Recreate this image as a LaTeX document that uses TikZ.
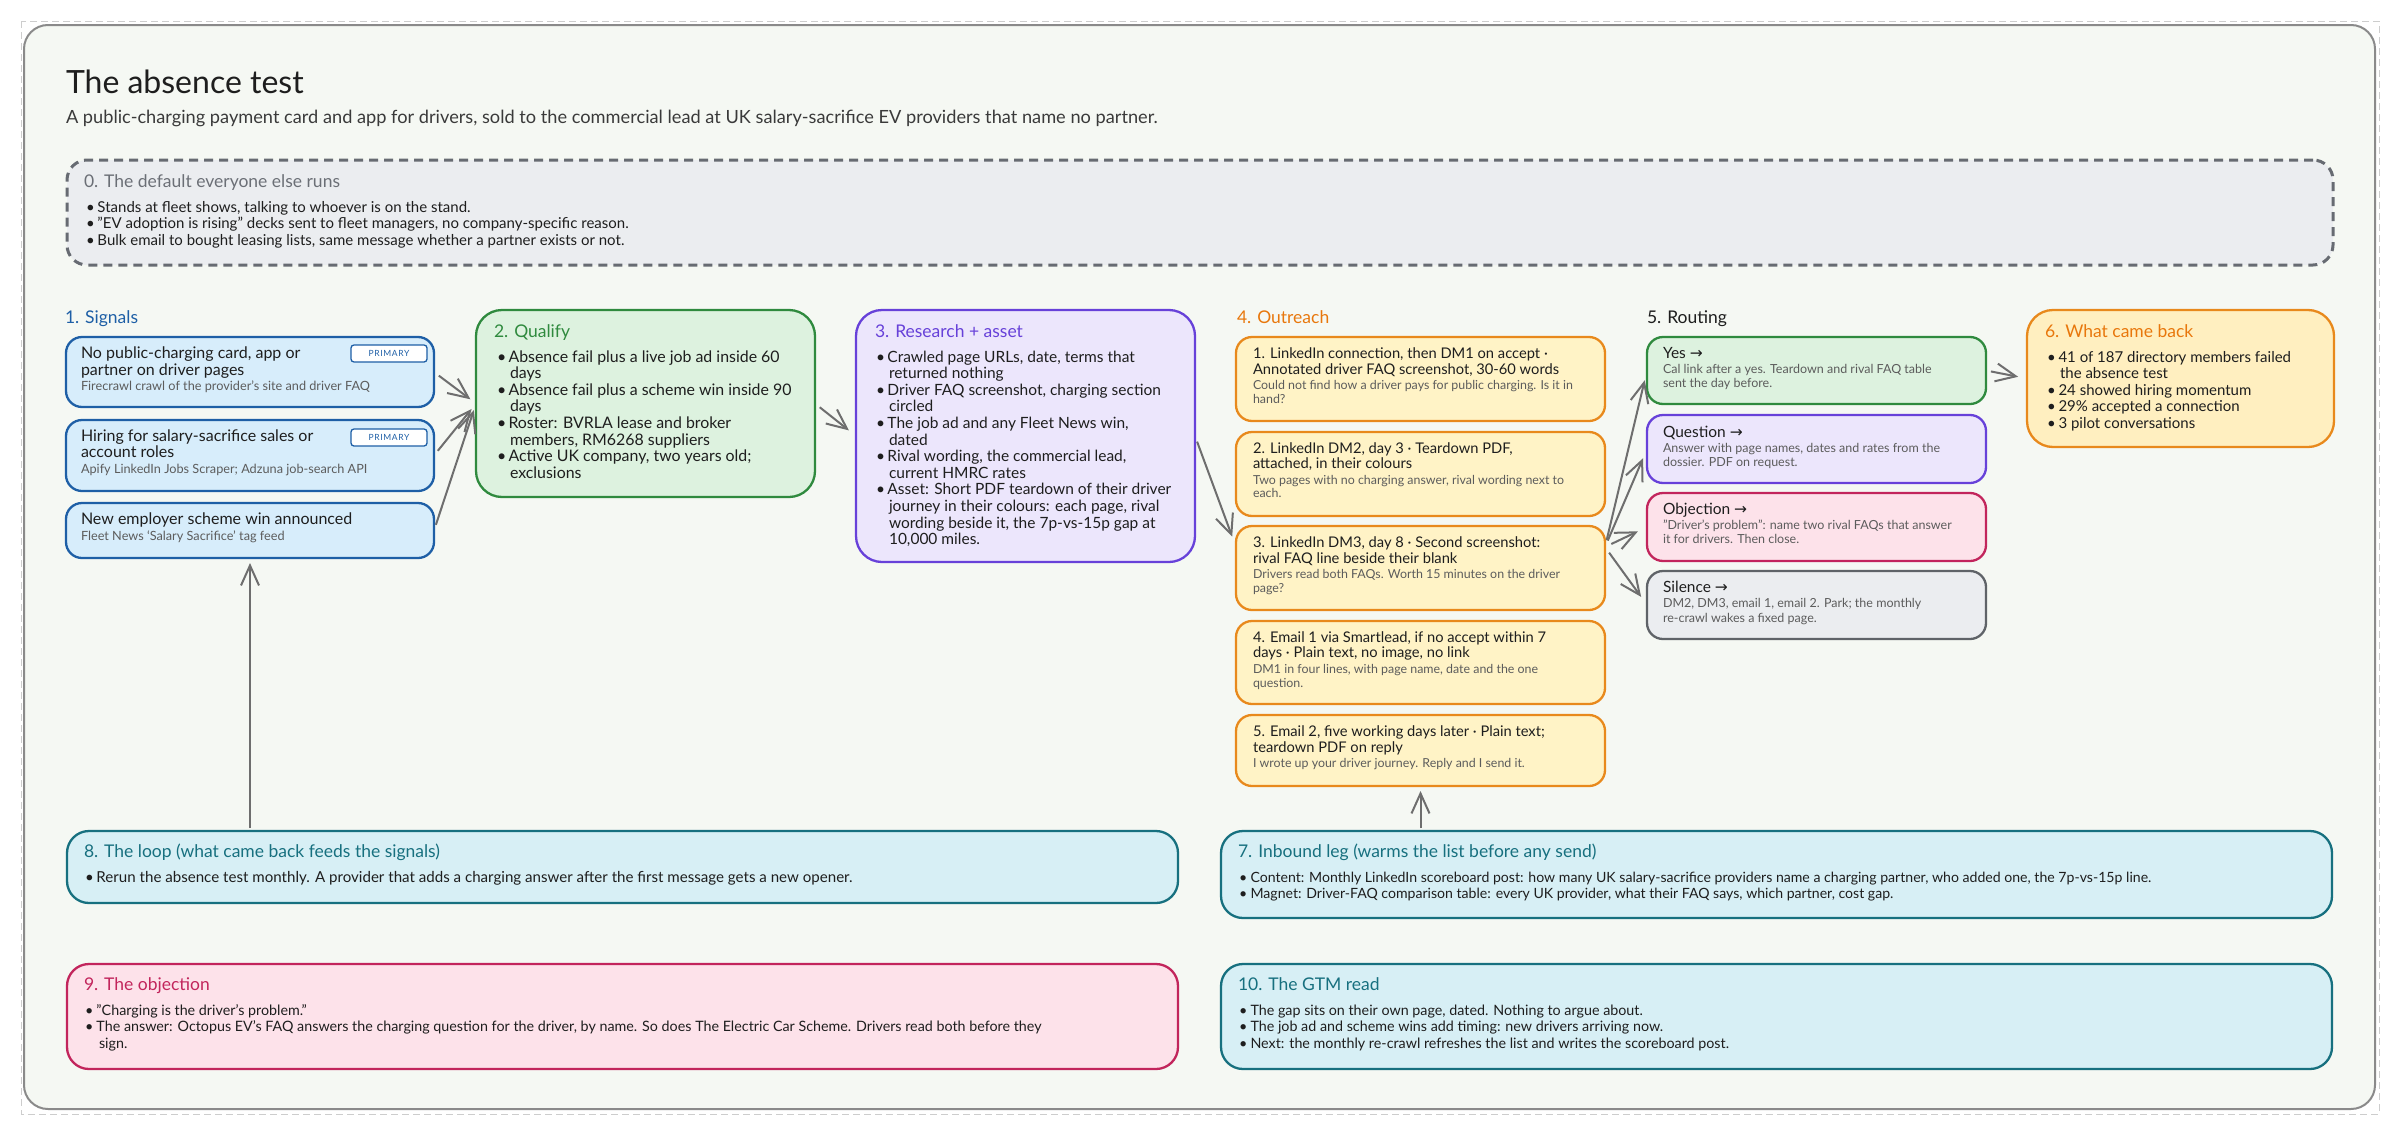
\documentclass[tikz,border=0pt]{standalone}
\usepackage{fontspec}
\setmainfont{Lato}
\newfontfamily\symf{DejaVu Sans}
\usetikzlibrary{arrows.meta,calc}
\definecolor{ink}{HTML}{1E1E1E}
\definecolor{subink}{HTML}{3A3A3A}
\definecolor{subgray}{HTML}{5C5C5C}
\definecolor{panelfill}{HTML}{F5F8F3}
\definecolor{panelline}{HTML}{8A8A8A}
\definecolor{outerdash}{HTML}{CDCDCD}
\definecolor{grayfill}{HTML}{EBEDF0}
\definecolor{grayline}{HTML}{676B72}
\definecolor{graytitle}{HTML}{6B6F76}
\definecolor{bluefill}{HTML}{D7EDFB}
\definecolor{blueline}{HTML}{1E5FA6}
\definecolor{greenfill}{HTML}{DDF2DF}
\definecolor{greenline}{HTML}{2F8A3E}
\definecolor{purpfill}{HTML}{ECE6FC}
\definecolor{purpline}{HTML}{6741D9}
\definecolor{yelfill}{HTML}{FFF3C6}
\definecolor{yelfilltwo}{HTML}{FFEFC0}
\definecolor{orline}{HTML}{E8891C}
\definecolor{ortitle}{HTML}{E8770C}
\definecolor{pinkfill}{HTML}{FDE2EA}
\definecolor{pinkline}{HTML}{C2255C}
\definecolor{tealfill}{HTML}{D7EFF5}
\definecolor{tealline}{HTML}{17707F}
\definecolor{silline}{HTML}{5F6368}
\definecolor{arrowc}{HTML}{6E6E6E}
\newcounter{tl}
\newcommand\TL[3][]{\stepcounter{tl}\node[txt,#1] (t\arabic{tl}) at (#2) {#3};}
\newcommand\BL[3][]{\TL[#1]{#2}{\makebox[11.5pt][l]{\textbullet}#3}}
\newcommand\myarrow{{\symf →}}
\newcommand\fs[1]{\fontsize{#1}{#1}\selectfont}
\begin{document}
\begin{tikzpicture}[x=1pt,y=-1pt,
 txt/.style={anchor=base west,inner sep=0pt,outer sep=0pt,text=ink,font=\fs{14.3}},
 sm/.style={text=subgray,font=\fs{12.4}},
 hd/.style={font=\fs{17.5}},
 fzero/.style={font=\fs{15}},
 fsig/.style={font=\fs{16}},
 fsigsm/.style={text=subgray,font=\fs{12.7}},
 fqual/.style={font=\fs{15.9}},
 fres/.style={font=\fs{15.5}},
 fout/.style={font=\fs{14.7}},
 frout/.style={font=\fs{15.5}},
 frsm/.style={text=subgray,font=\fs{12.5}},
 fwcb/.style={font=\fs{15}},
 floop/.style={font=\fs{15.1}},
 finb/.style={font=\fs{14.1}},
 box/.style={anchor=north west,inner sep=0pt,outer sep=0pt,line width=2.3pt,rounded corners=16pt},
 bigbox/.style={box,rounded corners=26pt},
 tag/.style={draw=blueline,fill=white,line width=1.3pt,rounded corners=3pt,inner sep=0pt,minimum width=76pt,minimum height=17pt,text=blueline,font=\fs{8.5}\addfontfeature{LetterSpace=8}},
 conn/.style={draw=arrowc,line width=2pt,-{Straight Barb[length=20pt,width=18pt]}},
]
\useasboundingbox (0,0) rectangle (2400,1135);
\fill[white] (0,0) rectangle (2400,1135);
\draw[outerdash,line width=1pt,dash pattern=on 7pt off 4pt] (21,21) rectangle (2379,1114);
\node[box,draw=panelline,fill=panelfill,line width=2pt,rounded corners=24pt,minimum width=2351pt,minimum height=1084pt] (panel) at (24,25) {};

% title
\TL[font=\fs{32}]{66,93}{The absence test}
\TL[font=\fs{18.2},text=subink]{66,123}{A public-charging payment card and app for drivers, sold to the commercial lead at UK salary-sacrifice EV providers that name no partner.}

% box 0
\node[box,draw=grayline,fill=grayfill,line width=3pt,dash pattern=on 9pt off 6pt,rounded corners=20pt,minimum width=2266pt,minimum height=105pt] (box0) at (67,160) {};
\TL[hd,text=graytitle]{84,187}{0. The default everyone else runs}
\BL[fzero]{86,212}{Stands at fleet shows, talking to whoever is on the stand.}
\BL[fzero]{86,228.5}{"EV adoption is rising" decks sent to fleet managers, no company-specific reason.}
\BL[fzero]{86,245}{Bulk email to bought leasing lists, same message whether a partner exists or not.}

% 1. Signals
\TL[hd,text=blueline]{65,323}{1. Signals}
\node[box,draw=blueline,fill=bluefill,minimum width=368pt,minimum height=70pt] (sig1) at (66,337) {};
\node[box,draw=blueline,fill=bluefill,minimum width=368pt,minimum height=71pt] (sig2) at (66,420) {};
\node[box,draw=blueline,fill=bluefill,minimum width=368pt,minimum height=55pt] (sig3) at (66,503) {};
\node[tag] (tag1) at (389,353.5) {PRIMARY};
\node[tag] (tag2) at (389,437.5) {PRIMARY};
\TL[fsig]{81,358}{No public-charging card, app or}
\TL[fsig]{81,375}{partner on driver pages}
\TL[fsigsm]{81,390}{Firecrawl crawl of the provider's site and driver FAQ}
\TL[fsig]{81,441}{Hiring for salary-sacrifice sales or}
\TL[fsig]{81,457}{account roles}
\TL[fsigsm]{81,473}{Apify LinkedIn Jobs Scraper; Adzuna job-search API}
\TL[fsig]{81,524}{New employer scheme win announced}
\TL[fsigsm]{81,540}{Fleet News `Salary Sacrifice' tag feed}

% 2. Qualify
\node[bigbox,draw=greenline,fill=greenfill,minimum width=339pt,minimum height=187pt] (qual) at (476,310) {};
\TL[hd,text=greenline]{494,337}{2. Qualify}
\BL[fqual]{497,362}{Absence fail plus a live job ad inside 60}
\TL[fqual]{510,378.6}{days}
\BL[fqual]{497,395.2}{Absence fail plus a scheme win inside 90}
\TL[fqual]{510,411.8}{days}
\BL[fqual]{497,428.4}{Roster: BVRLA lease and broker}
\TL[fqual]{510,445}{members, RM6268 suppliers}
\BL[fqual]{497,461.6}{Active UK company, two years old;}
\TL[fqual]{510,478.2}{exclusions}

% 3. Research + asset
\node[bigbox,draw=purpline,fill=purpfill,minimum width=339pt,minimum height=252pt] (res) at (856,310) {};
\TL[hd,text=purpline]{875,337}{3. Research + asset}
\BL[fres]{876,362}{Crawled page URLs, date, terms that}
\TL[fres]{889,378.6}{returned nothing}
\BL[fres]{876,395.2}{Driver FAQ screenshot, charging section}
\TL[fres]{889,411.8}{circled}
\BL[fres]{876,428.4}{The job ad and any Fleet News win,}
\TL[fres]{889,445}{dated}
\BL[fres]{876,461.6}{Rival wording, the commercial lead,}
\TL[fres]{889,478.2}{current HMRC rates}
\BL[fres]{876,494.8}{Asset: Short PDF teardown of their driver}
\TL[fres]{889,511.4}{journey in their colours: each page, rival}
\TL[fres]{889,528}{wording beside it, the 7p-vs-15p gap at}
\TL[fres]{889,544.6}{10,000 miles.}

% 4. Outreach
\TL[hd,text=ortitle]{1237,323}{4. Outreach}
\node[box,draw=orline,fill=yelfill,minimum width=369pt,minimum height=84pt] (out1) at (1236,337) {};
\node[box,draw=orline,fill=yelfill,minimum width=369pt,minimum height=84pt] (out2) at (1236,432) {};
\node[box,draw=orline,fill=yelfill,minimum width=369pt,minimum height=84pt] (out3) at (1236,526) {};
\node[box,draw=orline,fill=yelfill,minimum width=369pt,minimum height=83pt] (out4) at (1236,621) {};
\node[box,draw=orline,fill=yelfill,minimum width=369pt,minimum height=71pt] (out5) at (1236,715) {};
\TL[fout]{1253,358}{1. LinkedIn connection, then DM1 on accept ·}
\TL[fout]{1253,374}{Annotated driver FAQ screenshot, 30-60 words}
\TL[sm]{1253,389}{Could not find how a driver pays for public charging. Is it in}
\TL[sm]{1253,403}{hand?}
\TL[fout]{1253,453}{2. LinkedIn DM2, day 3 · Teardown PDF,}
\TL[fout]{1253,468}{attached, in their colours}
\TL[sm]{1253,484}{Two pages with no charging answer, rival wording next to}
\TL[sm]{1253,497}{each.}
\TL[fout]{1253,547}{3. LinkedIn DM3, day 8 · Second screenshot:}
\TL[fout]{1253,563}{rival FAQ line beside their blank}
\TL[sm]{1253,578}{Drivers read both FAQs. Worth 15 minutes on the driver}
\TL[sm]{1253,592}{page?}
\TL[fout]{1253,642}{4. Email 1 via Smartlead, if no accept within 7}
\TL[fout]{1253,657}{days · Plain text, no image, no link}
\TL[sm]{1253,673}{DM1 in four lines, with page name, date and the one}
\TL[sm]{1253,687}{question.}
\TL[fout]{1253,736}{5. Email 2, five working days later · Plain text;}
\TL[fout]{1253,752}{teardown PDF on reply}
\TL[sm]{1253,767}{I wrote up your driver journey. Reply and I send it.}

% 5. Routing
\TL[hd]{1647,323}{5. Routing}
\node[box,draw=greenline,fill=greenfill,minimum width=339pt,minimum height=67pt] (yes) at (1647,337) {};
\node[box,draw=purpline,fill=purpfill,minimum width=339pt,minimum height=68pt] (ques) at (1647,415) {};
\node[box,draw=pinkline,fill=pinkfill,minimum width=339pt,minimum height=68pt] (obj) at (1647,493) {};
\node[box,draw=silline,fill=grayfill,minimum width=339pt,minimum height=68pt] (sil) at (1647,571) {};
\TL[frout]{1663,358}{Yes \myarrow}
\TL[frsm]{1663,373}{Cal link after a yes. Teardown and rival FAQ table}
\TL[frsm]{1663,387}{sent the day before.}
\TL[frout]{1663,437}{Question \myarrow}
\TL[frsm]{1663,452}{Answer with page names, dates and rates from the}
\TL[frsm]{1663,466}{dossier. PDF on request.}
\TL[frout]{1663,514}{Objection \myarrow}
\TL[frsm]{1663,529}{"Driver's problem": name two rival FAQs that answer}
\TL[frsm]{1663,543}{it for drivers. Then close.}
\TL[frout]{1663,592}{Silence \myarrow}
\TL[frsm]{1663,607}{DM2, DM3, email 1, email 2. Park; the monthly}
\TL[frsm]{1663,622}{re-crawl wakes a fixed page.}

% 6. What came back
\node[bigbox,draw=orline,fill=yelfilltwo,minimum width=307pt,minimum height=137pt] (wcb) at (2027,310) {};
\TL[hd,text=ortitle]{2045,337}{6. What came back}
\BL[fwcb]{2047,362}{41 of 187 directory members failed}
\TL[fwcb]{2060,378.6}{the absence test}
\BL[fwcb]{2047,395.2}{24 showed hiring momentum}
\BL[fwcb]{2047,411.8}{29\% accepted a connection}
\BL[fwcb]{2047,428.4}{3 pilot conversations}

% 8. Loop
\node[box,draw=tealline,fill=tealfill,rounded corners=22pt,minimum width=1111pt,minimum height=72pt] (loop) at (67,831) {};
\TL[hd,text=tealline]{84,857}{8. The loop (what came back feeds the signals)}
\BL[floop]{85,882}{Rerun the absence test monthly. A provider that adds a charging answer after the first message gets a new opener.}

% 7. Inbound
\node[box,draw=tealline,fill=tealfill,rounded corners=22pt,minimum width=1111pt,minimum height=87pt] (inb) at (1221,831) {};
\TL[hd,text=tealline]{1238,857}{7. Inbound leg (warms the list before any send)}
\BL[finb]{1239,882}{Content: Monthly LinkedIn scoreboard post: how many UK salary-sacrifice providers name a charging partner, who added one, the 7p-vs-15p line.}
\BL[finb]{1239,898.5}{Magnet: Driver-FAQ comparison table: every UK provider, what their FAQ says, which partner, cost gap.}

% 9. Objection
\node[box,draw=pinkline,fill=pinkfill,rounded corners=22pt,minimum width=1111pt,minimum height=105pt] (objn) at (67,964) {};
\TL[hd,text=pinkline]{84,990}{9. The objection}
\BL{85,1015}{"Charging is the driver's problem."}
\BL{85,1031.5}{The answer: Octopus EV's FAQ answers the charging question for the driver, by name. So does The Electric Car Scheme. Drivers read both before they}
\TL{99,1048}{sign.}

% 10. GTM
\node[box,draw=tealline,fill=tealfill,rounded corners=22pt,minimum width=1111pt,minimum height=105pt] (gtm) at (1221,964) {};
\TL[hd,text=tealline]{1238,990}{10. The GTM read}
\BL{1239,1015}{The gap sits on their own page, dated. Nothing to argue about.}
\BL{1239,1031.5}{The job ad and scheme wins add timing: new drivers arriving now.}
\BL{1239,1048}{Next: the monthly re-crawl refreshes the list and writes the scoreboard post.}

% connectors
\coordinate (o3in) at ($(out3.north west)!0.25!(out3.south west)$);
\coordinate (fork) at ($(out3.north east)!0.25!(out3.south east)$);
\draw[conn,shorten <=6pt,shorten >=7pt] (sig1.east) -- (qual.west);
\draw[conn,shorten <=6pt,shorten >=7pt] (sig2.east) -- (qual.west);
\draw[conn,shorten <=6pt,shorten >=7pt] (sig3.east) -- (qual.west);
\draw[conn,shorten <=6pt,shorten >=9pt] (qual.east) -- (res.west);
\draw[conn,shorten <=6pt,shorten >=11pt] (res.east) -- (o3in);
\draw[conn,shorten <=7pt,shorten >=10pt] (fork) -- (yes.west);
\draw[conn,shorten <=7pt,shorten >=10pt] (fork) -- (ques.west);
\draw[conn,shorten <=7pt,shorten >=10pt] (fork) -- (obj.west);
\draw[conn,shorten <=7pt,shorten >=10pt] (fork) -- (sil.west);
\draw[conn,shorten <=5pt,shorten >=9pt] (yes.east) -- (wcb.west);
\draw[conn,shorten <=3pt,shorten >=5pt] (sig3.south |- loop.north) -- (sig3.south);
\draw[conn,shorten <=3pt,shorten >=5pt] (out5.south |- inb.north) -- (out5.south);
\end{tikzpicture}
\end{document}
